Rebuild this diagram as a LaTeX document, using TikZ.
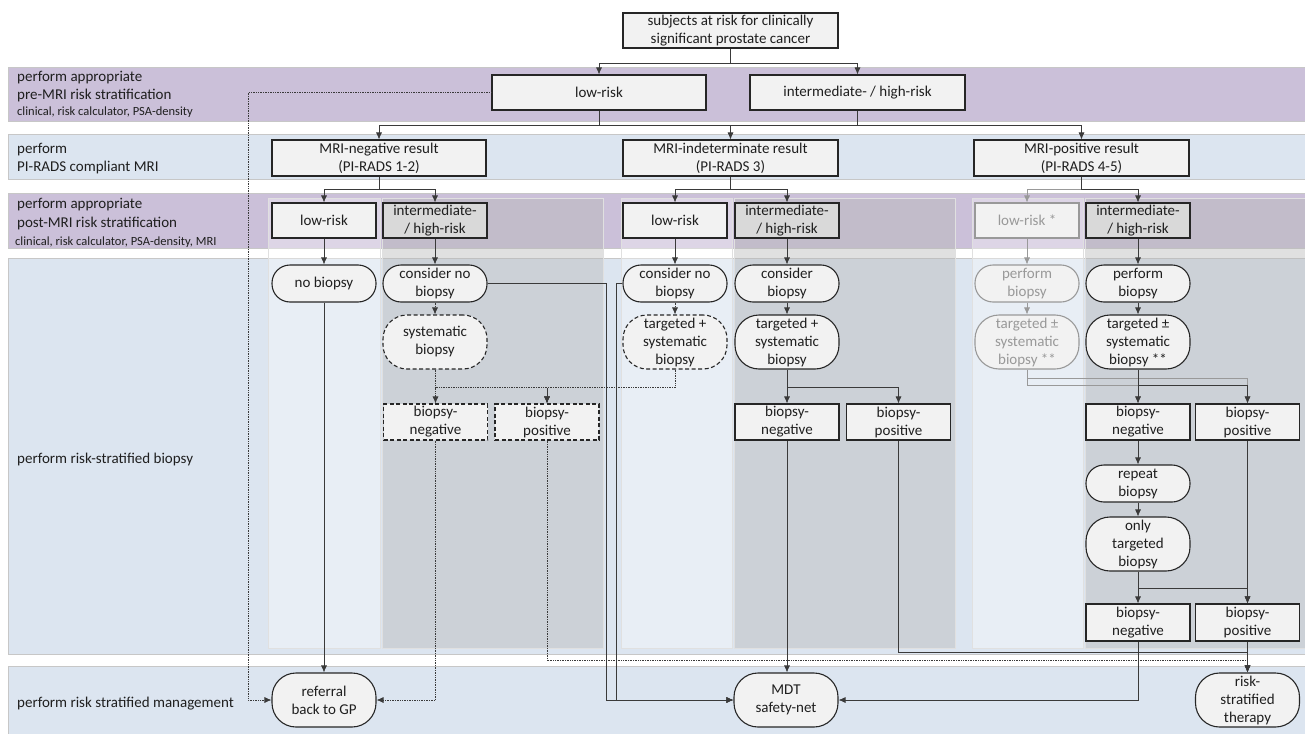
\documentclass[tikz,border=0pt]{standalone}
\usepackage{fontspec}
\setmainfont{Carlito}
\usetikzlibrary{arrows.meta,calc}
\definecolor{bandP}{HTML}{CBC0D9}
\definecolor{bandB}{HTML}{DCE5F0}
\definecolor{boxF}{HTML}{F2F2F2}
\definecolor{boxD}{HTML}{D9D9D9}
\definecolor{lineC}{HTML}{3A3A3A}
\definecolor{ghost}{HTML}{999999}
\begin{document}
\begin{tikzpicture}[x=1pt,y=-1pt,
 lbl/.style={font=\fontsize{15}{18}\selectfont, text=black!88, inner sep=0pt, anchor=base west},
 lbls/.style={font=\fontsize{12.5}{14}\selectfont, text=black!88, inner sep=0pt, anchor=base west},
 box/.style={font=\fontsize{15}{18}\selectfont, text=black!88, draw=black!85, line width=1.1pt, fill=boxF, align=center, inner sep=0pt, minimum width=104pt, minimum height=36pt},
 wbox/.style={box, minimum width=214pt, minimum height=35pt},
 dbox/.style={box, fill=boxD},
 rbox/.style={box, rounded corners=18pt, minimum height=37pt},
 tbox/.style={box, rounded corners=24pt, minimum height=54pt},
 dsh/.style={dashed, dash pattern=on 4pt off 2.5pt},
 ghostn/.style={draw=ghost, text=ghost},
 conn/.style={draw=lineC, line width=0.7pt},
 arr/.style={conn, -{Latex[length=7pt,width=6pt]}},
 dotarr/.style={arr, densely dotted},
 dotc/.style={conn, densely dotted},
 garr/.style={arr, draw=ghost},
 gconn/.style={conn, draw=ghost},
 panelL/.style={draw=black!12, fill=white, fill opacity=0.35, line width=0.8pt},
 panelD/.style={draw=black!12, fill=black!28, fill opacity=0.43, line width=0.8pt},
 bandst/.style={draw=black!22, line width=0.8pt}
]
\useasboundingbox (0,0) rectangle (1305,733);
\fill[white] (0,0) rectangle (1305,733);
% bands
\filldraw[bandst, fill=bandP] (8,67) rectangle (1312,121);
\filldraw[bandst, fill=bandB] (8,134) rectangle (1312,179);
\filldraw[bandst, fill=bandP] (8,193) rectangle (1312,248);
\filldraw[bandst, fill=bandB] (8,258) rectangle (1312,654);
\filldraw[bandst, fill=bandB] (8,666) rectangle (1312,740);
% column panels
\filldraw[panelL] (268,198) rectangle (380,648);
\filldraw[panelD] (382,198) rectangle (603,648);
\filldraw[panelL] (621,198) rectangle (732,648);
\filldraw[panelD] (734,198) rectangle (955,648);
\filldraw[panelL] (972,198) rectangle (1083,648);
\filldraw[panelD] (1085,198) rectangle (1312,648);
% left labels
\node[lbl] (l1a) at (17,82) {perform appropriate};
\node[lbl] (l1b) at (17,100) {pre-MRI risk stratification};
\node[lbls] (l1c) at (17,115) {clinical, risk calculator, PSA-density};
\node[lbl] (l2a) at (17,153) {perform};
\node[lbl] (l2b) at (17,171) {PI-RADS compliant MRI};
\node[lbl] (l3a) at (17,208) {perform appropriate};
\node[lbl] (l3b) at (17,227) {post-MRI risk stratification};
\node[lbls] (l3c) at (15,245) {clinical, risk calculator, PSA-density, MRI};
\node[lbl] (l4) at (17,463) {perform risk-stratified biopsy};
\node[lbl] (l5) at (17,707) {perform risk stratified management};
% top levels
\node[wbox, minimum width=215pt] (top) at (730.5,30.5) {subjects at risk for clinically\\significant prostate cancer};
\node[wbox] (prelow) at (599,92.5) {low-risk};
\node[wbox, minimum width=215pt] (preint) at (857.5,92.5) {intermediate- / high-risk};
\node[wbox, minimum height=36pt] (mrineg) at (379,158) {MRI-negative result\\(PI-RADS 1-2)};
\node[wbox, minimum height=36pt, minimum width=215pt] (mriind) at (730.5,158) {MRI-indeterminate result\\(PI-RADS 3)};
\node[wbox, minimum height=36pt, minimum width=215pt] (mripos) at (1081.5,158) {MRI-positive result\\(PI-RADS 4-5)};
% post-MRI
\node[box, minimum height=35pt] (neglow) at (324,220.5) {low-risk};
\node[dbox, minimum height=35pt] (negint) at (435,220.5) {intermediate-\\/ high-risk};
\node[box, minimum height=35pt] (indlow) at (675,220.5) {low-risk};
\node[dbox, minimum height=35pt] (indint) at (787,220.5) {intermediate-\\/ high-risk};
\node[box, ghostn, minimum height=35pt] (poslow) at (1027,220.5) {low-risk *};
\node[dbox, minimum height=35pt] (posint) at (1138,220.5) {intermediate-\\/ high-risk};
% biopsy level
\node[rbox] (negnob) at (324,283.5) {no biopsy};
\node[rbox] (negcons) at (435,283.5) {consider no\\biopsy};
\node[tbox, dsh] (negsys) at (435,342) {systematic\\biopsy};
\node[box, dsh] (negbn) at (435.5,422) {biopsy-\\negative};
\node[box, dsh] (negbp) at (547,422) {biopsy-\\positive};
\node[rbox] (indcons) at (675,283.5) {consider no\\biopsy};
\node[tbox, dsh] (indts) at (675,342) {targeted +\\systematic\\biopsy};
\node[rbox] (intcb) at (787,283.5) {consider\\biopsy};
\node[tbox] (intts) at (787,342) {targeted +\\systematic\\biopsy};
\node[box] (indbn) at (787,422) {biopsy-\\negative};
\node[box] (indbp) at (898.5,422) {biopsy-\\positive};
\node[rbox, ghostn] (posperf) at (1027,283.5) {perform\\biopsy};
\node[tbox, ghostn] (posts) at (1027,342) {targeted ±\\systematic\\biopsy **};
\node[rbox] (intperf) at (1138,283.5) {perform\\biopsy};
\node[tbox] (intts2) at (1138,342) {targeted ±\\systematic\\biopsy **};
\node[box] (posbn) at (1138,422) {biopsy-\\negative};
\node[box] (posbp) at (1247.5,422) {biopsy-\\positive};
\node[rbox] (rep) at (1138,483.5) {repeat\\biopsy};
\node[tbox] (onlyt) at (1138,544) {only\\targeted\\biopsy};
\node[box, minimum height=37pt] (posbn2) at (1138,622.5) {biopsy-\\negative};
\node[box, minimum height=37pt] (posbp2) at (1247.5,622.5) {biopsy-\\positive};
% management
\node[tbox] (gp) at (324,700) {referral\\back to GP};
\node[tbox] (mdt) at (786,700) {MDT\\safety-net};
\node[tbox] (rst) at (1247.5,700) {risk-\\stratified\\therapy};
% connectors: top
\draw[arr] (top.south) -- ++(0,15) -| (prelow.north);
\draw[arr] (top.south) -- ++(0,15) -| (preint.north);
\coordinate (bus) at (730.5,125);
\draw[conn] (prelow.south) -- (prelow.south |- bus);
\draw[conn] (preint.south) -- (preint.south |- bus);
\draw[conn] (mrineg.north |- bus) -- (mripos.north |- bus);
\draw[arr] (mrineg.north |- bus) -- (mrineg.north);
\draw[arr] (bus) -- (mriind.north);
\draw[arr] (mripos.north |- bus) -- (mripos.north);
% MRI -> post-MRI
\draw[arr] (mrineg.south) -- ++(0,13) -| (neglow.north);
\draw[arr] (mrineg.south) -- ++(0,13) -| (negint.north);
\draw[arr] (mriind.south) -- ++(0,13) -| (indlow.north);
\draw[arr] (mriind.south) -- ++(0,13) -| (indint.north);
\draw[garr] (mripos.south) -- ++(0,13) -| (poslow.north);
\draw[arr] (mripos.south) -- ++(0,13) -| (posint.north);
% post-MRI -> biopsy
\draw[arr] (neglow.south) -- (negnob.north);
\draw[arr] (negint.south) -- (negcons.north);
\draw[dotarr] (negcons.south) -- (negsys.north);
\draw[arr] (indlow.south) -- (indcons.north);
\draw[dotarr] (indcons.south) -- (indts.north);
\draw[arr] (indint.south) -- (intcb.north);
\draw[arr] (intcb.south) -- (intts.north);
\draw[garr] (poslow.south) -- (posperf.north);
\draw[garr] (posperf.south) -- (posts.north);
\draw[arr] (posint.south) -- (intperf.north);
\draw[arr] (intperf.south) -- (intts2.north);
% biopsy results
\draw[dotarr] (negsys.south) -- ++(0,18) -| (negbn.north);
\draw[dotarr] (negsys.south) -- ++(0,18) -| (negbp.north);
\draw[dotarr] (indts.south) -- ++(0,18) -| (negbp.north);
\draw[arr] (intts.south) -- ++(0,18) -| (indbn.north);
\draw[arr] (intts.south) -- ++(0,18) -| (indbp.north);
\draw[garr] (posts.south) -- ++(0,16) -| (posbn.north);
\draw[garr] (posts.south) ++(0,9) -| (posbp.north);
\draw[arr] (intts2.south) -- (posbn.north);
\draw[arr] (intts2.south) -- ++(0,16) -| (posbp.north);
% MRI-positive lower chain
\draw[arr] (posbn.south) -- (rep.north);
\draw[arr] (rep.south) -- (onlyt.north);
\draw[arr] (onlyt.south) -- ++(0,17) -| (posbn2.north);
\draw[arr] (onlyt.south) -- ++(0,17) -| (posbp2.north);
\draw[arr] (posbp.south) -- (posbp2.north);
\draw[arr] (posbp2.south) -- (rst.north);
\draw[arr] (posbn2.south) |- (mdt.east);
% to management
\draw[arr] (indbn.south) -- (indbn.south |- mdt.north);
\draw[arr] (indbp.south) -- ++(0,212) -| (rst.north);
\draw[dotarr] (negbp.south) -- ++(0,220) -| (rst.north);
\draw[arr] (negcons.east) -- ++(119,0) |- (mdt.west);
\draw[arr] (indcons.west) -- ++(-6,0) |- (mdt.west);
\draw[arr] (negnob.south) -- (gp.north);
\draw[dotarr] (negbn.south) |- (gp.east);
\draw[dotarr] (prelow.west) -- ++(-243,0) |- (gp.west);
\end{tikzpicture}
\end{document}
